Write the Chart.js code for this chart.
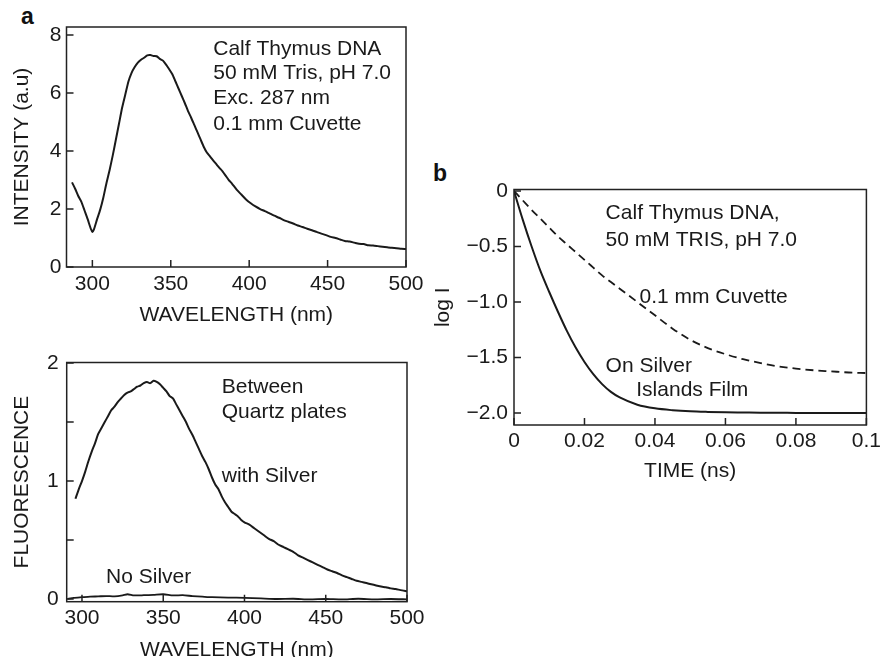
<!DOCTYPE html>
<html>
<head>
<meta charset="utf-8">
<script src="https://cdn.jsdelivr.net/npm/chart.js@4.4.0/dist/chart.umd.min.js"></script>
<style>
  html, body { margin: 0; padding: 0; background: #fff; overflow: hidden; }
  body { width: 885px; height: 657px; position: relative; font-family: "Liberation Sans", Arial, sans-serif; }
  canvas { position: absolute; }
  .tag { position: absolute; font-weight: bold; font-size: 23px; line-height: 23px; color: #111; }
</style>
</head>
<body>
<div class="tag" style="left:21px; top:5px;">a</div>
<div class="tag" style="left:433px; top:162px;">b</div>
<canvas id="spectrum" width="440" height="330" style="left:0; top:0;"></canvas>
<canvas id="fluor" width="440" height="345" style="left:0; top:330px;"></canvas>
<canvas id="decay" width="455" height="330" style="left:430px; top:160px;"></canvas>
<script>
// panel a (top) - emission spectrum
const wavelengthA = [287,289,291,293,295,297,299,300,301,303,305,307,309,311,313,315,317,319,321,323,325,327,329,331,333,335,337,339,341,343,345,347,349,351,353,355,357,359,361,363,365,367,369,371,373,375,377,379,381,383,385,387,389,392,395,398,401,404,407,410,413,416,419,422,425,428,431,434,437,440,443,446,449,452,455,458,461,464,467,470,473,476,479,482,485,488,491,494,497,500];
const intensity = [2.92,2.7,2.45,2.25,1.95,1.65,1.32,1.21,1.3,1.65,1.98,2.4,2.9,3.35,3.85,4.4,4.95,5.5,5.95,6.4,6.7,6.9,7.05,7.15,7.22,7.3,7.31,7.28,7.27,7.18,7.12,6.98,6.82,6.65,6.4,6.15,5.9,5.65,5.38,5.15,4.9,4.65,4.4,4.15,3.95,3.82,3.68,3.55,3.42,3.3,3.15,3.0,2.88,2.67,2.5,2.33,2.2,2.09,2.0,1.93,1.85,1.77,1.7,1.62,1.56,1.5,1.43,1.38,1.32,1.27,1.21,1.15,1.1,1.04,1.0,0.95,0.9,0.88,0.84,0.8,0.79,0.75,0.74,0.72,0.7,0.68,0.66,0.65,0.63,0.62];
const xTicksA = [300, 350, 400, 450, 500];
const yTicksA = [0, 2, 4, 6, 8];
const notesA = ['Calf Thymus DNA', '50 mM Tris, pH 7.0', 'Exc. 287 nm', '0.1 mm Cuvette'];

// panel a (bottom) - between quartz plates
const wavelengthB = [296,298,300,302,304,306,308,310,312,314,316,318,320,322,324,326,328,330,332,334,336,338,340,342,344,346,348,350,352,354,356,358,360,362,364,366,368,370,372,374,376,378,380,382,384,386,388,390,392,394,396,398,400,403,406,409,412,415,418,421,424,427,430,433,436,439,442,445,448,451,454,457,460,463,466,469,472,475,478,481,484,487,490,493,496,500];
const withSilver = [0.85,0.93,1.0,1.08,1.17,1.25,1.32,1.4,1.45,1.5,1.55,1.6,1.63,1.67,1.7,1.73,1.75,1.76,1.78,1.8,1.81,1.83,1.84,1.83,1.85,1.84,1.82,1.79,1.76,1.72,1.7,1.65,1.6,1.55,1.5,1.44,1.39,1.33,1.27,1.21,1.16,1.1,1.03,0.97,0.93,0.87,0.82,0.78,0.74,0.72,0.7,0.67,0.65,0.63,0.6,0.57,0.54,0.51,0.49,0.46,0.44,0.42,0.4,0.37,0.35,0.33,0.31,0.29,0.27,0.25,0.235,0.22,0.2,0.185,0.17,0.155,0.145,0.135,0.125,0.115,0.105,0.1,0.09,0.085,0.075,0.065];
const wavelengthNo = [291,295,300,305,310,315,320,325,328,332,338,344,350,356,362,368,374,380,390,400,410,420,430,440,450,460,470,480,490,500];
const noSilver = [0.0,0.01,0.015,0.02,0.022,0.025,0.022,0.03,0.04,0.03,0.032,0.035,0.04,0.03,0.032,0.025,0.02,0.015,0.012,0.01,0.005,0.0,0.002,-0.003,0.0,-0.004,0.002,-0.003,0.0,-0.003];
const xTicksB = [300, 350, 400, 450, 500];
const yTicksB = [0, 0.5, 1, 1.5, 2];
const notesB = ['Between', 'Quartz plates', 'with Silver', 'No Silver'];

// panel b - decays
const timeNs = [0,0.0025,0.005,0.0075,0.01,0.0125,0.015,0.0175,0.02,0.0225,0.025,0.0275,0.03,0.035,0.04,0.045,0.05,0.055,0.06,0.065,0.07,0.075,0.08,0.085,0.09,0.095,0.1];
const logSilver = [0,-0.26,-0.5,-0.72,-0.91,-1.09,-1.26,-1.41,-1.54,-1.65,-1.74,-1.81,-1.86,-1.925,-1.958,-1.975,-1.985,-1.99,-1.993,-1.995,-1.997,-1.998,-1.999,-2.0,-2.0,-2.0,-2.0];
const logCuvette = [0,-0.085,-0.17,-0.25,-0.33,-0.41,-0.48,-0.55,-0.62,-0.69,-0.76,-0.82,-0.88,-1.0,-1.12,-1.24,-1.34,-1.415,-1.47,-1.515,-1.55,-1.58,-1.6,-1.615,-1.625,-1.635,-1.64];
const xTicksC = [0, 0.02, 0.04, 0.06, 0.08, 0.1];
const yTicksC = [0, -0.5, -1.0, -1.5, -2.0];
const notesC = ['Calf Thymus DNA,', '50 mM TRIS, pH 7.0', '0.1 mm Cuvette', 'On Silver', 'Islands Film'];

const ink = '#1a1a1a';
const font = { family: '"Liberation Sans", Arial, sans-serif', size: 21 };

// frame, inward tick marks and text notes placed through the scales
const framePlugin = {
  id: 'frame',
  afterDatasetsDraw(chart, args, opts) {
    const { ctx, chartArea: a, scales: { x, y } } = chart;
    ctx.save();
    ctx.strokeStyle = '#222';
    ctx.lineWidth = 1.5;
    ctx.strokeRect(a.left, a.top, a.right - a.left, a.bottom - a.top);
    ctx.beginPath();
    for (const t of x.ticks) {
      const px = x.getPixelForValue(t.value);
      ctx.moveTo(px, a.bottom);
      ctx.lineTo(px, a.bottom - 7);
    }
    for (const t of y.ticks) {
      const py = y.getPixelForValue(t.value);
      ctx.moveTo(a.left, py);
      ctx.lineTo(a.left + 7, py);
    }
    ctx.stroke();
    ctx.fillStyle = ink;
    ctx.font = font.size + 'px ' + font.family;
    ctx.textBaseline = 'alphabetic';
    ctx.textAlign = 'left';
    for (const n of opts.notes || []) {
      ctx.fillText(n.text, x.getPixelForValue(n.x), y.getPixelForValue(n.y));
    }
    ctx.restore();
  }
};

function points(xs, ys) {
  return xs.map((v, i) => ({ x: v, y: ys[i] }));
}

function axis(cfg) {
  return {
    type: 'linear',
    min: cfg.min,
    max: cfg.max,
    afterBuildTicks: (s) => { s.ticks = cfg.ticks.map(v => ({ value: v })); },
    afterFit: (s) => { if (cfg.width) s.width = cfg.width; if (cfg.height) s.height = cfg.height; },
    grid: { display: false, drawTicks: false },
    border: { display: false },
    ticks: { padding: cfg.pad, color: ink, font: font, callback: cfg.fmt || ((v) => String(v)) },
    title: { display: true, text: cfg.title, color: ink, font: font, padding: cfg.titlePad }
  };
}

function makeChart(id, datasets, padding, xAxis, yAxis, notes) {
  return new Chart(document.getElementById(id), {
    type: 'line',
    data: { datasets: datasets },
    options: {
      responsive: false,
      animation: false,
      layout: { padding: padding },
      elements: { point: { radius: 0 } },
      plugins: { legend: { display: false }, tooltip: { enabled: false }, frame: { notes: notes } },
      scales: { x: axis(xAxis), y: axis(yAxis) }
    },
    plugins: [framePlugin]
  });
}

makeChart('spectrum',
  [{ data: points(wavelengthA, intensity), borderColor: ink, borderWidth: 2, tension: 0.2 }],
  { left: 0, top: 27, right: 34, bottom: 0 },
  { min: 283.5, max: 500, ticks: xTicksA, height: 63, pad: 5, title: 'WAVELENGTH (nm)', titlePad: { top: 0, bottom: 2.4 } },
  { min: 0, max: 8.28, ticks: yTicksA, width: 66.5, pad: 5, title: 'INTENSITY (a.u)', titlePad: { top: 9.4, bottom: 0 } },
  [
    { text: notesA[0], x: 377.1, y: 7.33 },
    { text: notesA[1], x: 377.1, y: 6.5 },
    { text: notesA[2], x: 377.1, y: 5.64 },
    { text: notesA[3], x: 377.1, y: 4.74 }
  ]
);

makeChart('fluor',
  [
    { data: points(wavelengthB, withSilver), borderColor: ink, borderWidth: 2, tension: 0.2 },
    { data: points(wavelengthNo, noSilver), borderColor: ink, borderWidth: 1.8, tension: 0.2 }
  ],
  { left: 0, top: 32.5, right: 33, bottom: 0 },
  { min: 290.6, max: 500, ticks: xTicksB, height: 73.3, pad: 4, title: 'WAVELENGTH (nm)', titlePad: { top: 0, bottom: 12.4 } },
  { min: -0.023, max: 2.005, ticks: yTicksB, width: 66.7, pad: 8, title: 'FLUORESCENCE', titlePad: { top: 9.4, bottom: 0 },
    fmt: (v) => Number.isInteger(v) ? String(v) : '' },
  [
    { text: notesB[0], x: 386, y: 1.744 },
    { text: notesB[1], x: 386, y: 1.532 },
    { text: notesB[2], x: 386, y: 0.994 },
    { text: notesB[3], x: 314.8, y: 0.133 }
  ]
);

makeChart('decay',
  [
    { data: points(timeNs, logSilver), borderColor: ink, borderWidth: 2, cubicInterpolationMode: 'monotone' },
    { data: points(timeNs, logCuvette), borderColor: ink, borderWidth: 1.8, borderDash: [8, 5], cubicInterpolationMode: 'monotone' }
  ],
  { left: 0, top: 29.5, right: 17, bottom: 0 },
  { min: 0, max: 0.1, ticks: xTicksC, height: 65, pad: 4, title: 'TIME (ns)', titlePad: { top: 0, bottom: 5.7 },
    fmt: (v) => v === 0 ? '0' : (v === 0.1 ? '0.1' : v.toFixed(2)) },
  { min: -2.108, max: 0.0135, ticks: yTicksC, width: 84, pad: 6, title: 'log I', titlePad: { top: 0.4, bottom: 0 },
    fmt: (v) => v === 0 ? '0' : '\u2212' + Math.abs(v).toFixed(1) },
  [
    { text: notesC[0], x: 0.026, y: -0.255 },
    { text: notesC[1], x: 0.026, y: -0.495 },
    { text: notesC[2], x: 0.0356, y: -1.012 },
    { text: notesC[3], x: 0.026, y: -1.633 },
    { text: notesC[4], x: 0.0347, y: -1.844 }
  ]
);
</script>
</body>
</html>
